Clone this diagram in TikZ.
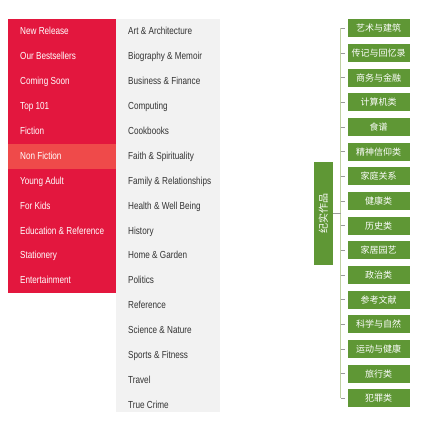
\documentclass[tikz,border=0pt]{standalone}
\usepackage{fontspec}
\setmainfont{Liberation Sans}
\newfontfamily\narrowf[FakeStretch=0.8]{Liberation Sans}
\newfontfamily\cjk{Noto Sans CJK SC}
\definecolor{redbg}{HTML}{E3173E}
\definecolor{redhl}{HTML}{EF4A4A}
\definecolor{graybg}{HTML}{F2F2F2}
\definecolor{graytxt}{HTML}{333333}
\definecolor{leafgreen}{HTML}{5F9735}
\definecolor{trunkc}{HTML}{BFD0A2}
\definecolor{tickc}{HTML}{9A9A9A}
\tikzset{
  menutxt/.style={anchor=west, inner sep=0pt, text height=7.6pt, text depth=1.2pt, font=\narrowf\fontsize{10.2}{12}\selectfont},
  redtxt/.style={menutxt, text=white},
  graytxtstyle/.style={menutxt, text=graytxt},
  leaf/.style={fill=leafgreen, text=white, minimum width=62pt, minimum height=18pt, inner sep=0pt, font=\cjk\fontsize{9}{10}\selectfont},
  rootbox/.style={fill=leafgreen, text=white, rotate=90, minimum width=103pt, minimum height=18.5pt, inner sep=0pt, font=\cjk\fontsize{10}{11}\selectfont},
  trunk/.style={draw=trunkc, line width=1.5pt},
  tick/.style={draw=tickc, line width=0.7pt}
}
\begin{document}
\begin{tikzpicture}[x=1pt,y=-1pt]
\useasboundingbox (0,0) rectangle (434,430);
% panels
\fill[graybg] (116,19.3) rectangle (220,412);
\fill[redbg] (8,19.3) rectangle (116,293.2);
\fill[redhl] (8,144.2) rectangle (116,169.1);
% red menu
\foreach \t [count=\i from 0] in {New Release, Our Bestsellers, Coming Soon, Top 101, Fiction, Non Fiction, Young Adult, For Kids, Education \& Reference, Stationery, Entertainment}
  \node[redtxt] (r\i) at (20, 31.7+24.9*\i) {\t};
% gray menu
\foreach \t [count=\i from 0] in {Art \& Architecture, Biography \& Memoir, Business \& Finance, Computing, Cookbooks, Faith \& Spirituality, Family \& Relationships, Health \& Well Being, History, Home \& Garden, Politics, Reference, Science \& Nature, Sports \& Fitness, Travel, True Crime}
  \node[graytxtstyle] (g\i) at (128, 31.7+24.9*\i) {\t};
% tree
\node[rootbox] (root) at (323.3,213.5) {纪实作品};
\foreach \t [count=\i from 0] in {艺术与建筑, 传记与回忆录, 商务与金融, 计算机类, 食谱, 精神信仰类, 家庭关系, 健康类, 历史类, 家居园艺, 政治类, 参考文献, 科学与自然, 运动与健康, 旅行类, 犯罪类}
  \node[leaf] (c\i) at (378.5, 28.3+24.67*\i) {\t};
\coordinate (tk) at (340.5,213.5);
\draw[trunk] (c0.west -| tk) -- (c15.west -| tk);
\draw[tick] (root.south) -- (tk);
\foreach \i in {0,...,15}
  \draw[tick] (c\i.west -| tk) -- ([xshift=-2pt]c\i.west);
\end{tikzpicture}
\end{document}
